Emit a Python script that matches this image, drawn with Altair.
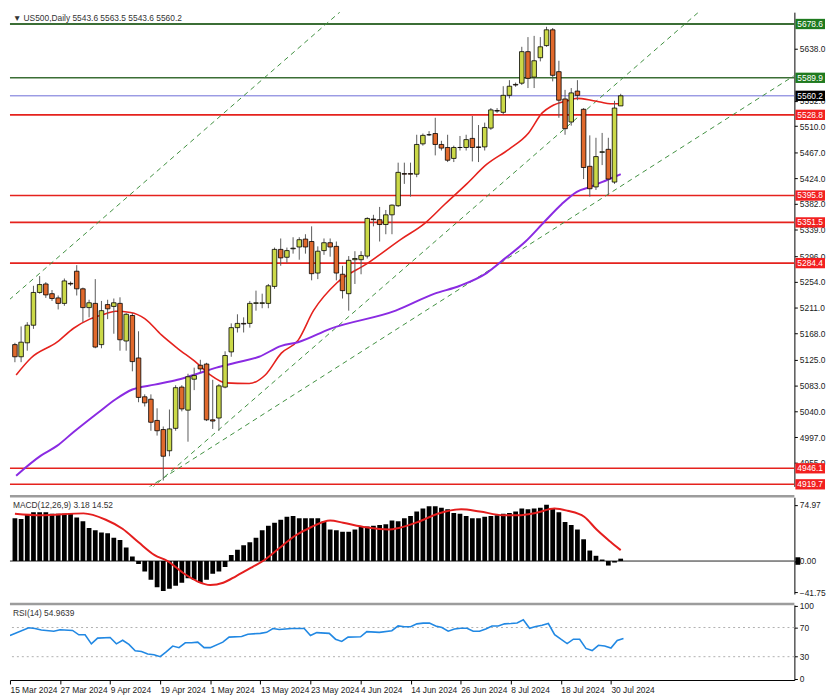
import altair as alt
import pandas as pd

FONT = "Liberation Sans"

# ---------------- data ----------------
tick_labels = ["15 Mar 2024", "27 Mar 2024", "9 Apr 2024", "19 Apr 2024", "1 May 2024",
               "13 May 2024", "23 May 2024", "4 Jun 2024", "14 Jun 2024", "26 Jun 2024",
               "8 Jul 2024", "18 Jul 2024", "30 Jul 2024"]
tick_bars = [0, 8, 16, 24, 32, 40, 48, 56, 64, 72, 80, 88, 96]

opens = [5150, 5130, 5153, 5182, 5236, 5250, 5234, 5227, 5218, 5251,
         5271, 5242, 5211, 5218, 5150, 5216, 5213, 5218, 5156, 5198,
         5128, 5064, 5060, 5025, 5010, 4975, 5012, 5080, 5042, 5093,
         5116, 5118, 5026, 5029, 5080, 5138, 5178, 5185, 5185, 5218,
         5218, 5218, 5246, 5307, 5294, 5308, 5311, 5324, 5320, 5268,
         5305, 5318, 5312, 5266, 5234, 5290, 5290, 5296, 5357, 5356,
         5348, 5364, 5379, 5432, 5432, 5431, 5481, 5496, 5498, 5480,
         5475, 5457, 5475, 5475, 5490, 5476, 5476, 5507, 5536, 5533,
         5561, 5579, 5581, 5633, 5591, 5623, 5643, 5669, 5600, 5555,
         5517, 5568, 5538, 5444, 5410, 5467, 5472, 5418, 5543.6]
highs = [5153, 5180, 5187, 5247, 5263, 5253, 5240, 5231, 5259, 5254,
         5281, 5244, 5224, 5258, 5222, 5224, 5226, 5228, 5202, 5202,
         5172, 5068, 5068, 5045, 5015, 5043, 5083, 5083, 5102, 5112,
         5125, 5120, 5092, 5085, 5139, 5185, 5200, 5195, 5222, 5239,
         5234, 5250, 5310, 5325, 5310, 5327, 5327, 5332, 5345, 5312,
         5325, 5325, 5320, 5280, 5296, 5304, 5304, 5360, 5364, 5377,
         5372, 5381, 5450, 5450, 5450, 5496, 5498, 5502, 5524, 5486,
         5496, 5478, 5494, 5496, 5527, 5512, 5516, 5540, 5540, 5576,
         5586, 5582, 5641, 5657, 5659, 5657, 5674, 5672, 5618, 5570,
         5573, 5586, 5540, 5495, 5491, 5499, 5491, 5552, 5563.5]
lows = [5121, 5121, 5140, 5176, 5234, 5227, 5222, 5208, 5214, 5247,
        5231, 5187, 5195, 5144, 5144, 5192, 5168, 5140, 5140, 5106,
        5055, 5048, 5008, 5000, 4926, 4966, 5008, 5040, 4990, 5075,
        5104, 5024, 5011, 5008, 5078, 5130, 5170, 5170, 5178, 5206,
        5210, 5210, 5242, 5280, 5285, 5300, 5290, 5300, 5256, 5258,
        5298, 5295, 5256, 5226, 5206, 5250, 5266, 5292, 5345, 5320,
        5332, 5332, 5377, 5415, 5394, 5426, 5478, 5494, 5462, 5470,
        5451, 5451, 5470, 5470, 5452, 5451, 5470, 5504, 5532, 5529,
        5556, 5575, 5578, 5573, 5573, 5617, 5641, 5584, 5524, 5496,
        5511, 5553, 5423, 5394, 5405, 5446, 5397, 5415, 5543.6]
closes = [5130, 5154, 5182, 5236, 5249, 5232, 5226, 5218, 5255, 5250,
          5242, 5211, 5219, 5146, 5206, 5209, 5219, 5158, 5200, 5122,
          5063, 5054, 5022, 5008, 4966, 5011, 5079, 5044, 5097, 5099,
          5110, 5026, 5024, 5082, 5132, 5178, 5185, 5184, 5218, 5219,
          5219, 5247, 5307, 5293, 5305, 5309, 5323, 5311, 5267, 5304,
          5318, 5311, 5268, 5239, 5289, 5292, 5297, 5358, 5356, 5348,
          5364, 5380, 5434, 5431, 5431, 5480, 5495, 5496, 5480, 5474,
          5454, 5475, 5475, 5488, 5475, 5475, 5508, 5537, 5535, 5561,
          5576, 5578, 5633, 5589, 5618, 5641, 5669, 5594, 5553, 5506,
          5565, 5561, 5442, 5407, 5460, 5468, 5423, 5540, 5560.2]

# moving averages (red fast, purple slow) read at points along the curves
fast_pos = [0.2, 2.6, 6.8, 9.5, 12.1, 14.7, 16.3, 18.7, 21, 23.7, 26.3, 29.4, 31.6, 34.1,
            37.9, 40.5, 43.1, 45.8, 48.3, 52.1, 56.9, 62.5, 66.3, 69.5, 73.1, 76.3, 79.9,
            83.1, 85.3, 86.8, 89.4, 90.9, 93.2, 94.7, 96.3, 98]
fast_val = [5100, 5128, 5154, 5177, 5192, 5201, 5205, 5203, 5193, 5166, 5144, 5120, 5100, 5087,
            5086, 5100, 5136, 5157, 5206, 5252, 5283, 5324, 5350, 5381, 5415, 5447, 5472,
            5499, 5532, 5543, 5552, 5556, 5553, 5550, 5547, 5547]
slow_pos = [0.2, 4.2, 6.8, 9.5, 13.6, 16.3, 19, 22.6, 26.3, 28.9, 32.6, 35.7, 39.5, 43.1,
            45.8, 51, 61.6, 67.9, 72, 76.3, 79.4, 82.6, 85.7, 88.4, 90.9, 93.1, 95.7, 98]
slow_val = [4934, 4967, 4983, 5006, 5039, 5060, 5076, 5084, 5092, 5100, 5112, 5120, 5130, 5148,
            5154, 5176, 5206, 5234, 5247, 5268, 5293, 5320, 5353, 5381, 5402, 5410, 5421, 5431]

# horizontal levels
levels = [5678.6, 5589.9, 5560.2, 5528.8, 5395.8, 5351.5, 5284.4, 4946.1, 4919.7]
level_line_colors = ["#3b6e35", "#3b6e35", "#6b6bd6", "#e5221d", "#e5221d", "#e5221d",
                     "#e5221d", "#e5221d", "#e5221d"]
level_box_colors = ["#1f7a1f", "#1f7a1f", "#000000", "#f22020", "#f22020", "#f22020",
                    "#f22020", "#f22020", "#f22020"]
level_widths = [2.2, 1.6, 1.0, 1.6, 1.6, 1.6, 1.6, 1.6, 1.6]

# dashed trend channel lines: two anchor points each (bar position, price)
chan_ids = ["A", "A", "B", "B", "C", "C"]
chan_pos = [-2, 60, 22, 115, 21.5, 126]
chan_price = [5214.3, 5764.2, 4912.3, 5737.2, 4913.8, 5593.0]

# MACD histogram (one per bar) and signal line
macd_hist = [57, 56, 62, 65, 65, 65, 63, 63, 63, 63,
             58, 53, 44, 41, 38, 37, 31, 28, 18, 6,
             -4, -14, -25, -35, -40, -37, -33, -29, -23, -25,
             -29, -25, -17, -14, -8, 8, 15, 21, 25, 31,
             41, 47, 51, 55, 59, 60, 57, 57, 57, 57,
             53, 42, 41, 39, 39, 42, 46, 46, 47, 48,
             49, 54, 53, 57, 60, 66, 70, 73, 73, 71,
             69, 64, 63, 60, 57, 57, 59, 60, 61, 63,
             64, 66, 70, 69, 70, 71, 75, 70, 65, 52,
             48, 42, 29, 14, 7, 2, -6, -2, 3.18]
sig_pos = [0, 4.2, 11.1, 14.7, 17.4, 20, 22.6, 24.7, 27.4, 29.5, 31.6, 33.7, 35.8, 38.4,
           40.5, 42.6, 45.2, 47.9, 51, 53.1, 56.8, 60.5, 62.1, 65.2, 68.4, 72.2, 75.2, 79,
           81.5, 84.2, 87.3, 89.4, 92.1, 94.1, 96.3, 98]
sig_val = [63, 61, 63.5, 55, 43, 25, 8, 0, -17, -27, -32, -29, -20, -8,
           2, 16, 33, 45, 54, 51, 45, 42, 44, 52, 63, 69, 66, 61,
           61, 64, 70, 67, 59, 42, 26, 14.52]

# RSI
rsi_pos = [0, 3, 4, 5, 7, 8, 10, 11, 12, 13, 14, 16, 17, 18, 19, 20, 21, 22, 23, 24,
           25, 26, 27, 28, 29, 30, 31, 32, 34, 35, 37, 38, 40, 41, 42, 43, 45, 47, 48, 49,
           51, 52, 53, 54, 56, 57, 59, 61, 62, 63] + list(range(64, 99))
rsi_val = [59, 69.6, 68.7, 66.5, 65, 67, 66, 60, 60, 47.6, 55.5, 56.4, 47.6, 52.5, 46.8, 38, 37, 33.6, 32.7, 30,
           37, 44.6, 42.4, 49, 49, 50, 42.4, 42.4, 50, 56.8, 57.7, 60.8, 62, 63.4, 68.7, 67.4, 68.7, 68.7, 59, 63,
           62, 54, 51, 56.8, 57.3, 64.3, 63.4, 65.6, 72.2, 71,
           71, 75, 76, 76.3, 72, 70, 65, 68, 69, 69,
           65, 65, 68, 72, 72, 75, 75.5, 76.3, 80.5, 69,
           71.3, 73, 75.5, 60.3, 54, 48, 54, 54, 41.4, 38.4,
           45.6, 44.7, 41.8, 52.3, 54.96]

# price scale labels that are not hidden behind the level boxes
main_yticks = [4955.0, 4997.0, 5040.0, 5083.0, 5125.0, 5168.0, 5211.0, 5254.0, 5296.0,
               5339.0, 5382.0, 5424.0, 5467.0, 5510.0, 5552.0, 5638.0]

header = "\u25BC US500,Daily  5543.6 5563.5 5543.6 5560.2"
macd_title = "MACD(12,26,9) 3.18 14.52"
rsi_title = "RSI(14) 54.9639"

# ---------------- layout ----------------
W = 794
H_MAIN, H_MACD, H_RSI = 480, 98, 76
x_scale = alt.Scale(domain=[0, 125.3], nice=False, zero=False)
y_main = alt.Scale(domain=[4916.3, 5698.1], nice=False, zero=False)
y_macd = alt.Scale(domain=[-44, 85], nice=False, zero=False)
y_rsi = alt.Scale(domain=[-2, 101], nice=False, zero=False)

axis_common = dict(orient="right", title=None, grid=False, labelFont=FONT, labelFontSize=8.5,
                   labelColor="#222", tickColor="#000", tickSize=3, domainColor="#000",
                   labelPadding=2, labelOverlap=False)
main_axis = alt.Axis(values=main_yticks, format=".1f", **axis_common)
macd_axis = alt.Axis(values=[-41.75, 0, 74.97], format=".2f", **axis_common)
rsi_axis = alt.Axis(values=[0, 30, 70, 100], format="d", **axis_common)

label_expr = "[" + ",".join("'" + t + "'" for t in tick_labels) + "][round(datum.value/8)]"
x_axis_bottom = alt.Axis(values=tick_bars, labelExpr=label_expr, labelAlign="left", labelFlush=False,
                         labelOverlap=False, labelFont=FONT, labelFontSize=8.5, labelColor="#222",
                         tickColor="#000", tickSize=4, domainColor="#000", labelPadding=2,
                         grid=False, title=None)


def XN():
    return alt.X("i:Q", scale=x_scale, axis=None, title=None)


def XB():
    return alt.X("i:Q", scale=x_scale, axis=x_axis_bottom, title=None)


def YM(field):
    return alt.Y(field, scale=y_main, axis=main_axis, title=None)


# ---------------- main panel ----------------
candles = pd.DataFrame({"i": list(range(len(opens))), "open": opens, "high": highs,
                        "low": lows, "close": closes})
candles["fill"] = ["#cbd948" if c >= o else "#e0692c" for o, c in zip(opens, closes)]

lev_df = pd.DataFrame({"price": levels, "line": level_line_colors, "box": level_box_colors,
                       "w": level_widths, "label": [f"{v:.1f}" for v in levels]})
chan_df = pd.DataFrame({"id": chan_ids, "i": chan_pos, "price": chan_price})
fast_df = pd.DataFrame({"i": fast_pos, "price": fast_val})
slow_df = pd.DataFrame({"i": slow_pos, "price": slow_val})

lev_rules = alt.Chart(lev_df).mark_rule().encode(
    y=YM("price:Q"),
    color=alt.Color("line:N", scale=None),
    strokeWidth=alt.StrokeWidth("w:Q", scale=None),
)
chan_lines = alt.Chart(chan_df).mark_line(clip=True, strokeDash=[5, 4], color="#3f8f3f",
                                          strokeWidth=1).encode(
    x=XN(), y=YM("price:Q"), detail="id:N")
fast_line = alt.Chart(fast_df).mark_line(clip=True, color="#e5221d", strokeWidth=1.6,
                                         interpolate="monotone").encode(x=XN(), y=YM("price:Q"))
slow_line = alt.Chart(slow_df).mark_line(clip=True, color="#8a2be2", strokeWidth=2,
                                         interpolate="monotone").encode(x=XN(), y=YM("price:Q"))
wicks = alt.Chart(candles).mark_rule(clip=True, color="#5a5a5a", strokeWidth=1).encode(
    x=XN(), y=YM("low:Q"), y2="high:Q")
bodies = alt.Chart(candles).mark_bar(clip=True, size=4.6, stroke="#000", strokeWidth=0.8).encode(
    x=XN(), y=YM("open:Q"), y2="close:Q", fill=alt.Fill("fill:N", scale=None))
lev_boxes = alt.Chart(lev_df).transform_calculate(
    lo="datum.price - 8.5", hi="datum.price + 8.5").mark_rect().encode(
    x=alt.value(W + 1), x2=alt.value(W + 31), y=YM("lo:Q"), y2="hi:Q",
    color=alt.Color("box:N", scale=None))
lev_text = alt.Chart(lev_df).mark_text(align="left", baseline="middle", color="white",
                                       fontSize=8.5, font=FONT).encode(
    x=alt.value(W + 3), y=YM("price:Q"), text="label:N")
head_text = alt.Chart(pd.DataFrame({"t": [header]})).mark_text(
    align="left", baseline="middle", fontSize=8.5, font=FONT, color="#333").encode(
    x=alt.value(3), y=alt.value(6), text="t:N")

main = alt.layer(lev_rules, chan_lines, fast_line, slow_line, wicks, bodies, lev_boxes,
                 lev_text, head_text).properties(width=W, height=H_MAIN)

# ---------------- MACD panel ----------------
macd_df = pd.DataFrame({"i": list(range(len(macd_hist))), "h": macd_hist})
sig_df = pd.DataFrame({"i": sig_pos, "s": sig_val})


def YD(field):
    return alt.Y(field, scale=y_macd, axis=macd_axis, title=None)


sep = alt.Chart(pd.DataFrame({"a": [0]})).mark_rule(color="#9c9c9c", strokeWidth=2.5).encode(
    x=alt.value(0), x2=alt.value(W), y=alt.value(-1))
macd_zero = alt.Chart(pd.DataFrame({"z": [0]})).mark_rule(color="#222", strokeWidth=1).encode(
    y=YD("z:Q"))
macd_bars = alt.Chart(macd_df).mark_bar(clip=True, size=4.8, color="#000").encode(
    x=XN(), y=YD("h:Q"))
sig_line = alt.Chart(sig_df).mark_line(clip=True, color="#e41e1e", strokeWidth=2,
                                       interpolate="monotone").encode(x=XN(), y=YD("s:Q"))
macd_marker = alt.Chart(pd.DataFrame({"lo": [-5.0], "hi": [5.0]})).mark_rect(color="#000").encode(
    x=alt.value(W + 1), x2=alt.value(W + 6), y=YD("lo:Q"), y2="hi:Q")
macd_text = alt.Chart(pd.DataFrame({"t": [macd_title]})).mark_text(
    align="left", baseline="middle", fontSize=8.5, font=FONT, color="#333").encode(
    x=alt.value(3), y=alt.value(8), text="t:N")
macd = alt.layer(sep, macd_zero, macd_bars, sig_line, macd_marker, macd_text).properties(
    width=W, height=H_MACD)

# ---------------- RSI panel ----------------
rsi_df = pd.DataFrame({"i": rsi_pos, "r": rsi_val})


def YR(field):
    return alt.Y(field, scale=y_rsi, axis=rsi_axis, title=None)


rsi_levels = alt.Chart(pd.DataFrame({"v": [30, 70]})).mark_rule(
    color="#b0b0b0", strokeDash=[2, 3], strokeWidth=1).encode(y=YR("v:Q"))
rsi_line = alt.Chart(rsi_df).mark_line(clip=True, color="#2188e3", strokeWidth=1.6).encode(
    x=XB(), y=YR("r:Q"))
rsi_text = alt.Chart(pd.DataFrame({"t": [rsi_title]})).mark_text(
    align="left", baseline="middle", fontSize=8.5, font=FONT, color="#333").encode(
    x=alt.value(3), y=alt.value(8), text="t:N")
rsi = alt.layer(sep, rsi_levels, rsi_line, rsi_text).properties(width=W, height=H_RSI)

chart = alt.vconcat(main, macd, rsi, spacing=4).properties(
    padding=0, background="white").configure_view(stroke=None)

chart.save("out.html", embed_options={"renderer": "svg", "actions": False})
